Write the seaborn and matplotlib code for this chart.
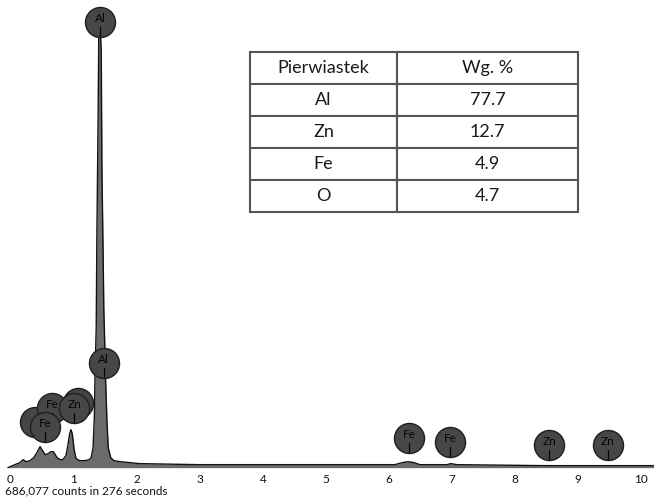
import numpy as np
import pandas as pd
import matplotlib
matplotlib.use("Agg")
import matplotlib.pyplot as plt
import seaborn as sns

# spectrum (energy in keV, counts)
energy = [-0.04, 0.07, 0.15, 0.20, 0.25, 0.31, 0.37, 0.42, 0.47, 0.52, 0.55,
          0.60, 0.64, 0.68, 0.71, 0.74, 0.79, 0.83, 0.88, 0.91, 0.94, 0.96,
          0.98, 1.01, 1.04, 1.10, 1.18, 1.25, 1.28, 1.31, 1.33, 1.34, 1.36,
          1.37, 1.39, 1.40, 1.42, 1.44, 1.45, 1.47, 1.48, 1.50, 1.51, 1.53,
          1.55, 1.59, 1.64, 1.74, 2.05, 3.0, 4.5, 6.09, 6.21, 6.30, 6.40,
          6.49, 6.92, 6.98, 7.08, 8.5, 10.2]
counts = [0, 64, 107, 171, 128, 150, 214, 321, 450, 342, 278,
          300, 342, 342, 278, 214, 171, 171, 257, 470, 728, 813,
          728, 385, 193, 150, 150, 171, 214, 428, 1070, 1900, 3000,
          4900, 7500, 9200, 9480, 8900, 6400, 4500, 3400, 2400, 1800, 1000,
          430, 214, 150, 128, 86, 64, 64, 64, 107, 128, 107,
          64, 64, 86, 64, 43, 43]

# element markers: label, energy (keV), marker height (counts)
line_labels = ["Al", "Al", "Fe", "Zn", "Fe", "Fe", "Fe", "Zn", "Zn"]
line_energy = [1.42, 1.48, 0.66, 1.01, 0.55, 6.32, 6.97, 8.54, 9.47]
line_height = [9538, 2240, 1278, 1278, 871, 636, 550, 486, 486]
hidden_energy = [0.39, 1.07]
hidden_height = [978, 1385]

# quantification table
elements = ["Al", "Zn", "Fe", "O"]
weight_pct = ["77.7", "12.7", "4.9", "4.7"]

sns.set_style("white")
plt.rcParams["font.family"] = ["Lato", "DejaVu Sans"]

fig = plt.figure(figsize=(6.54, 4.97), dpi=100)
ax = fig.add_axes([0, 27 / 497, 1, 470 / 497])

df = pd.DataFrame({"energy": energy, "counts": counts})
ax.fill_between(df["energy"], df["counts"], color="#6b6b6b", lw=0, zorder=1)
sns.lineplot(data=df, x="energy", y="counts", ax=ax, color="#111111",
             lw=1.0, zorder=2)

px = 21.4  # counts per pixel
ax.set_xlim(-0.165, 10.2)
ax.set_ylim(-50, 10000)

# hidden circles behind the labelled ones
ax.scatter(hidden_energy, hidden_height, s=30 ** 2 * 0.52, c="#454545",
           edgecolors="#1e1e1e", linewidths=1, zorder=3)
for i, (lab, e, h) in enumerate(zip(line_labels, line_energy, line_height)):
    z = 4 + i * 0.1
    ax.scatter([e], [h], s=30 ** 2 * 0.52, c="#474747", edgecolors="#1e1e1e",
               linewidths=1, zorder=z)
    ax.plot([e, e], [h - 5 * px, h - 14.5 * px], color="#050505", lw=0.9,
            zorder=z + 0.01)
    ax.text(e, h + 3 * px, lab, ha="center", va="center", fontsize=8.5,
            color="#050505", zorder=z + 0.02)

sns.despine(ax=ax, left=True, bottom=True, top=True, right=True)
ax.set_yticks([])
ax.set_xticks(range(0, 11))
ax.tick_params(axis="x", length=0, pad=3, labelsize=8.5, colors="#111111")
ax.set_xlabel("")
ax.set_ylabel("")

fig.text(5 / 654, 1 - 491 / 497, "686,077 counts in 276 seconds",
         fontsize=8.5, color="#111111", va="center", ha="left")

# table in figure pixels
x0, x1, y0, y1 = 250, 578, 52, 212
tab_ax = fig.add_axes([x0 / 654, 1 - y1 / 497, (x1 - x0) / 654, (y1 - y0) / 497])
tab_ax.axis("off")
cells = [["Pierwiastek", "Wg. %"]] + [[e, w] for e, w in zip(elements, weight_pct)]
tbl = tab_ax.table(cellText=cells, cellLoc="center", bbox=[0, 0, 1, 1],
                   colWidths=[147, 181])
tbl.auto_set_font_size(False)
for (r, c), cell in tbl.get_celld().items():
    cell.set_edgecolor("#555555")
    cell.set_linewidth(1.5)
    cell.set_facecolor("white")
    cell.get_text().set_fontsize(13)
    cell.get_text().set_color("#1a1a1a")

fig.savefig("out.png", dpi=100)
